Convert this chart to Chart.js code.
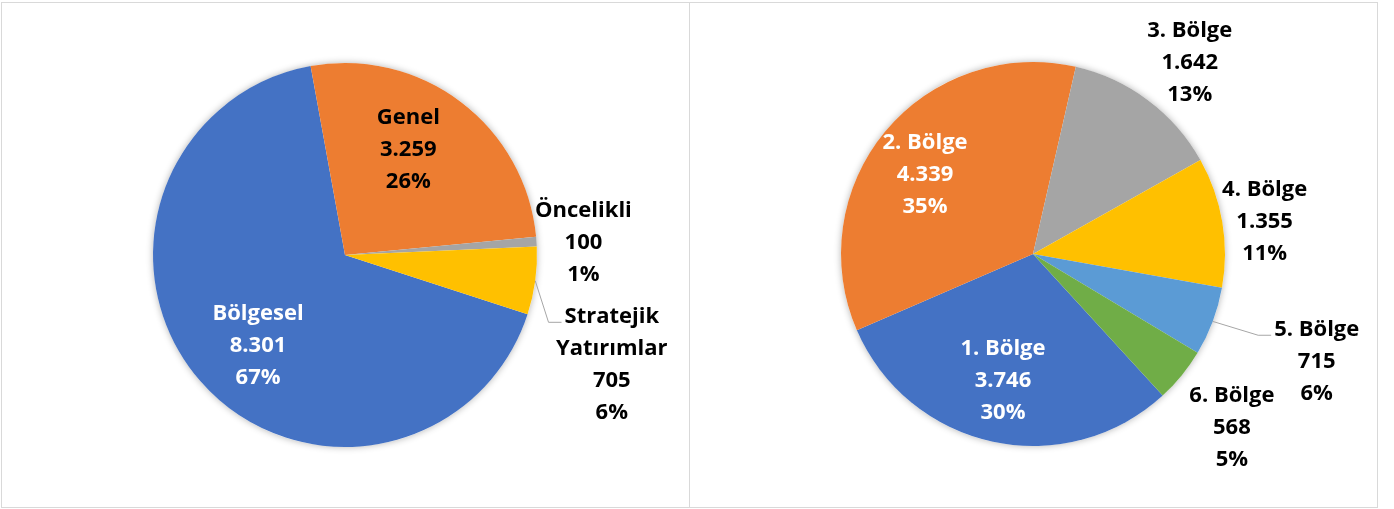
<!DOCTYPE html>
<html>
<head>
<meta charset="utf-8">
<script src="https://cdn.jsdelivr.net/npm/chart.js@4.4.1/dist/chart.umd.min.js"></script>
<style>
  body { margin: 0; background: #fff; }
  .panel { position: absolute; top: 2px; width: 687px; height: 504px; border: 1px solid #d9d9d9; }
  #p1 { left: 1px; }
  #p2 { left: 689px; }
  canvas { display: block; }
</style>
</head>
<body>
<div class="panel" id="p1"><canvas id="leftChart" width="687" height="504"></canvas></div>
<div class="panel" id="p2"><canvas id="rightChart" width="687" height="504"></canvas></div>
<script>
// Left pie data
var leftLabels = ['Bölgesel', 'Genel', 'Öncelikli', ['Stratejik', 'Yatırımlar']];
var leftValues = [8301, 3259, 100, 705];
var leftColors = ['#4472C4', '#ED7D31', '#A5A5A5', '#FFC000'];

// Right pie data
var rightLabels = ['1. Bölge', '2. Bölge', '3. Bölge', '4. Bölge', '5. Bölge', '6. Bölge'];
var rightValues = [3746, 4339, 1642, 1355, 715, 568];
var rightColors = ['#4472C4', '#ED7D31', '#A5A5A5', '#FFC000', '#5B9BD5', '#70AD47'];

var FONT = 'bold 22px "Open Sans", sans-serif';
var LINE_H = 32;

function fmtNum(v) {
  return String(v).replace(/\B(?=(\d{3})+(?!\d))/g, '.');
}

// label placement: radial fraction of radius + pixel nudge, colour, leader line
var leftLabelPos = [
  { k: 0.65, dx: 7, dy: 9, color: '#fff' },
  { k: 0.65, dx: -12, dy: -6, color: '#000' },
  { k: 1.25, dx: -1, dy: 4, color: '#000' },
  { k: 1.25, dx: 29, dy: 77, color: '#000', leader: true }
];
var rightLabelPos = [
  { k: 0.65, dx: -4, dy: 5, color: '#fff' },
  { k: 0.65, dx: -12, dy: 0, color: '#fff' },
  { k: 1.25, dx: 13, dy: 1, color: '#000' },
  { k: 1.25, dx: -5, dy: 8, color: '#000' },
  { k: 1.25, dx: 59, dy: 23, color: '#000', leader: true },
  { k: 1.25, dx: 13, dy: 22, color: '#000' }
];

var pieShadow = {
  id: 'pieShadow',
  beforeDatasetsDraw: function(chart) {
    var arc = chart.getDatasetMeta(0).data[0];
    var ctx = chart.ctx;
    ctx.save();
    ctx.shadowColor = 'rgba(0,0,0,0.3)';
    ctx.shadowBlur = 7;
    ctx.fillStyle = '#fff';
    ctx.beginPath();
    ctx.arc(arc.x, arc.y, arc.outerRadius, 0, Math.PI * 2);
    ctx.fill();
    ctx.restore();
  }
};

var pieLabels = {
  id: 'pieLabels',
  afterDatasetsDraw: function(chart, args, opts) {
    var ctx = chart.ctx;
    var ds = chart.data.datasets[0];
    var total = ds.data.reduce(function(a, b) { return a + b; }, 0);
    var meta = chart.getDatasetMeta(0);
    ctx.save();
    ctx.font = FONT;
    ctx.textAlign = 'center';
    ctx.textBaseline = 'middle';
    meta.data.forEach(function(arc, i) {
      var p = opts.pos[i];
      var mid = (arc.startAngle + arc.endAngle) / 2;
      var r = arc.outerRadius;
      var cx = arc.x + Math.cos(mid) * r * p.k + p.dx;
      var cy = arc.y + Math.sin(mid) * r * p.k + p.dy;
      var name = chart.data.labels[i];
      var lines = [].concat(name);
      lines.push(fmtNum(ds.data[i]));
      lines.push(Math.round(ds.data[i] / total * 100) + '%');
      var y0 = cy - (lines.length - 1) * LINE_H / 2;
      if (p.leader) {
        var w = ctx.measureText(lines[0]).width;
        var ex = cx - w / 2 - 3;
        var ey = y0 + 6;
        ctx.beginPath();
        ctx.strokeStyle = '#a6a6a6';
        ctx.lineWidth = 1;
        ctx.moveTo(arc.x + Math.cos(mid) * r, arc.y + Math.sin(mid) * r);
        ctx.lineTo(ex - 13, ey);
        ctx.lineTo(ex, ey);
        ctx.stroke();
      }
      ctx.fillStyle = p.color;
      lines.forEach(function(t, j) {
        ctx.fillText(t, cx, y0 + j * LINE_H);
      });
    });
    ctx.restore();
  }
};

function makePie(id, labels, values, colors, rotation, padding, pos) {
  return new Chart(document.getElementById(id).getContext('2d'), {
    type: 'pie',
    data: {
      labels: labels,
      datasets: [{
        data: values,
        backgroundColor: colors,
        borderWidth: 0,
        hoverOffset: 0,
        offset: 0
      }]
    },
    options: {
      responsive: false,
      animation: false,
      events: [],
      rotation: rotation,
      layout: { padding: padding },
      plugins: {
        legend: { display: false },
        tooltip: { enabled: false },
        pieLabels: { pos: pos }
      }
    },
    plugins: [pieShadow, pieLabels]
  });
}

makePie('leftChart', leftLabels, leftValues, leftColors, 108,
  { left: 151, right: 152, top: 60, bottom: 60 }, leftLabelPos);
makePie('rightChart', rightLabels, rightValues, rightColors, 137.5,
  { left: 151, right: 152, top: 59, bottom: 61 }, rightLabelPos);
</script>
</body>
</html>
